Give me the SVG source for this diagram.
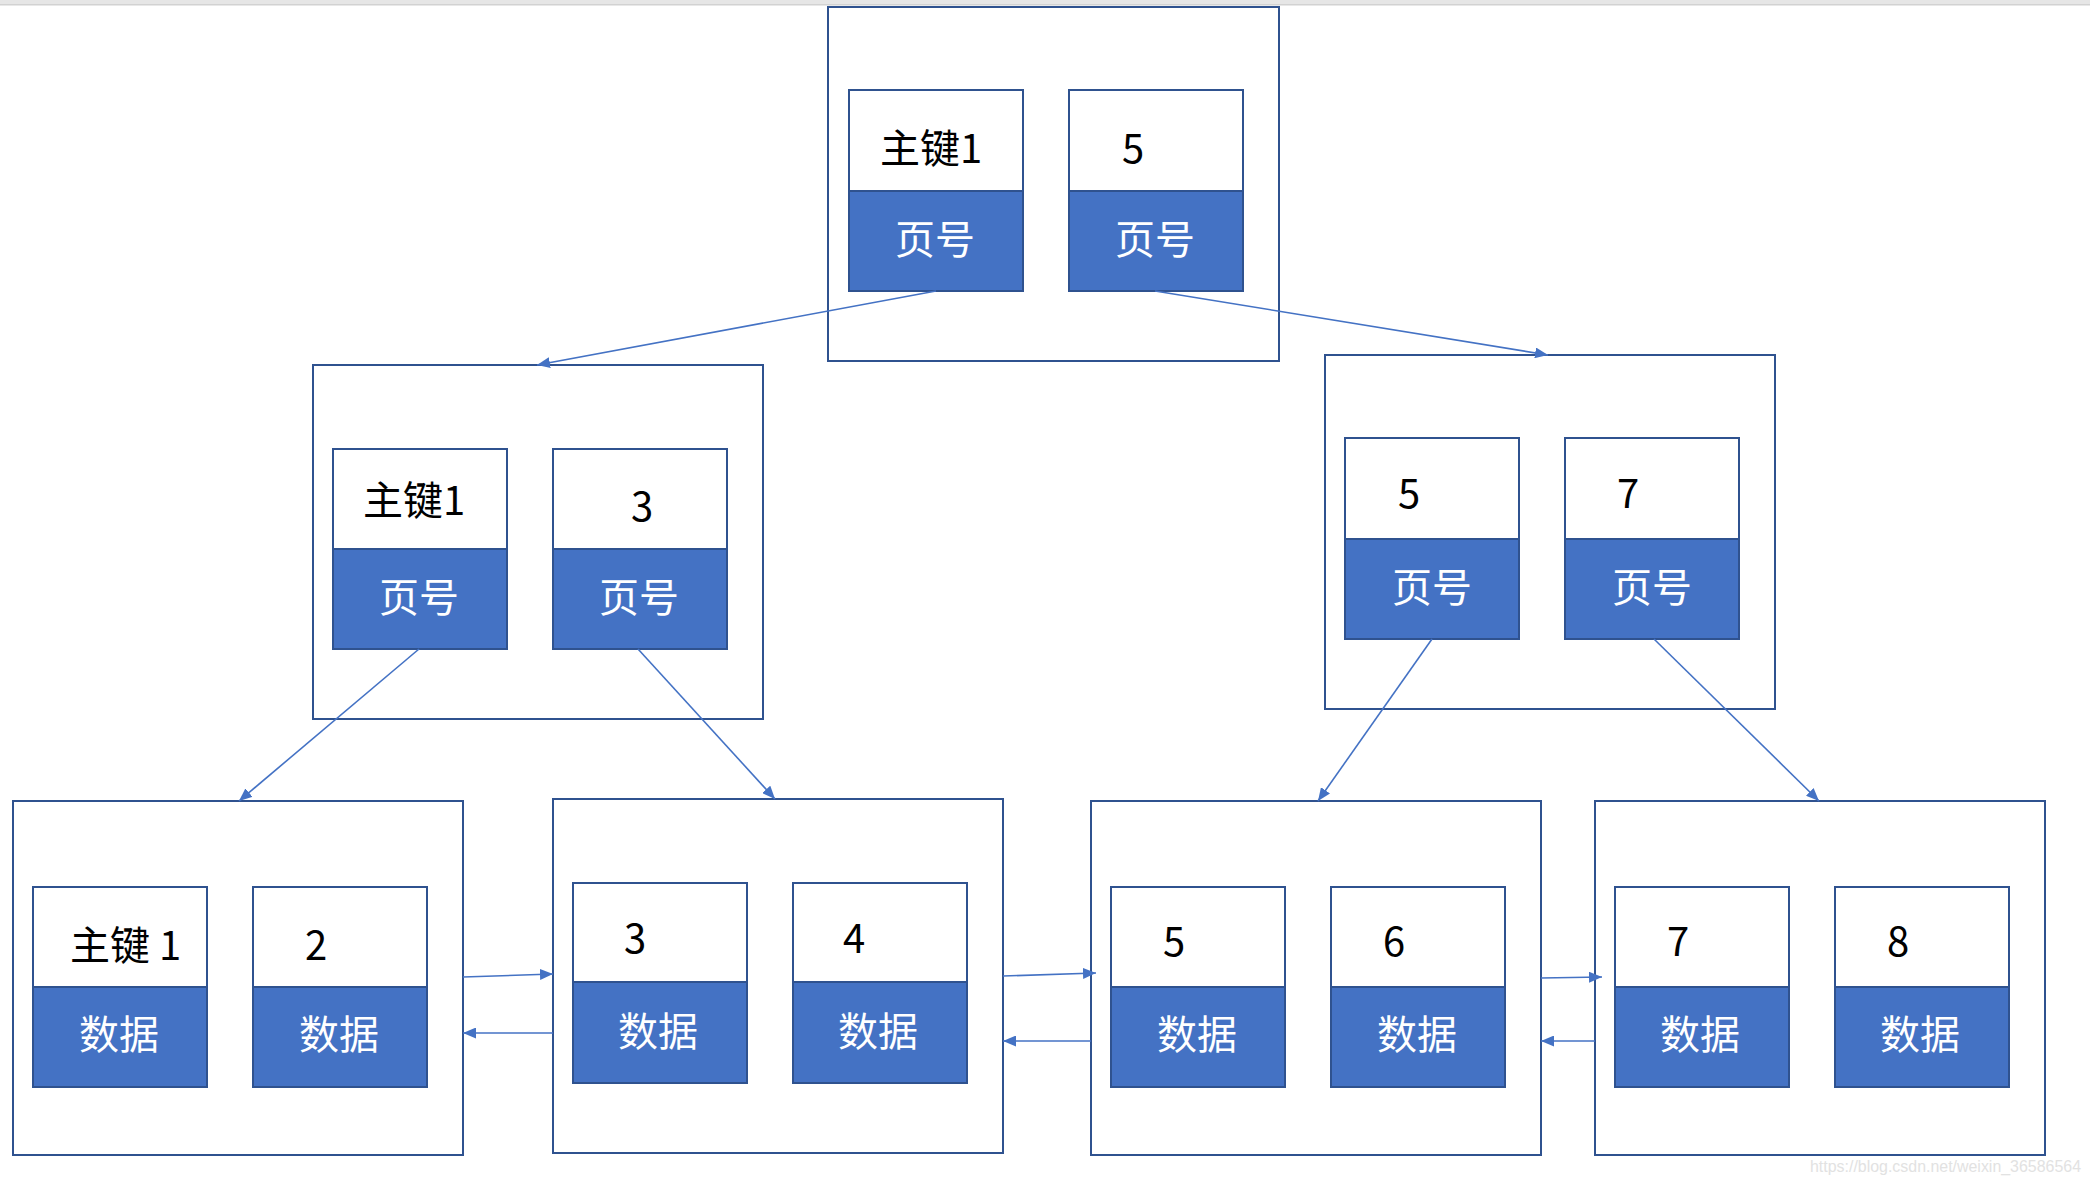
<svg xmlns="http://www.w3.org/2000/svg" width="2090" height="1184" viewBox="0 0 2090 1184">
<style>
.outer{fill:#fff;stroke:#2F528F;stroke-width:2}
.top{fill:#fff;stroke:#2F528F;stroke-width:2}
.bot{fill:#4472C4;stroke:#2F528F;stroke-width:2}
.k{font-family:"Noto Sans CJK SC","Noto Sans",sans-serif;font-size:40px;fill:#000}
.w{font-family:"Noto Sans CJK SC","Noto Sans",sans-serif;font-size:40px;fill:#fff;text-anchor:middle}
.c{stroke:#4472C4;stroke-width:1.6;fill:none;marker-end:url(#ah)}
</style>
<defs>
<marker id="ah" markerUnits="userSpaceOnUse" markerWidth="13" markerHeight="11" viewBox="0 0 13 11" refX="13" refY="5.5" orient="auto">
<path d="M0,0 L13,5.5 L0,11 z" fill="#4472C4"/>
</marker>
</defs>
<rect x="0" y="0" width="2090" height="1184" fill="#fff"/>
<rect x="0" y="0" width="2090" height="5" fill="#e6e6e6"/>
<rect x="0" y="4" width="2090" height="1.5" fill="#d2d2d2"/>

<g id="root">
<rect class="outer" x="828" y="7" width="451" height="354"/>
<rect class="top" x="849" y="90" width="174" height="101"/>
<rect class="bot" x="849" y="191" width="174" height="100"/>
<rect class="top" x="1069" y="90" width="174" height="101"/>
<rect class="bot" x="1069" y="191" width="174" height="100"/>
<text class="k" x="880" y="163">主键1</text>
<text class="k" x="1122" y="163">5</text>
<text class="w" x="935" y="254">页号</text>
<text class="w" x="1155" y="254">页号</text>
</g>

<g id="mid-left">
<rect class="outer" x="313" y="365" width="450" height="354"/>
<rect class="top" x="333" y="449" width="174" height="100"/>
<rect class="bot" x="333" y="549" width="174" height="100"/>
<rect class="top" x="553" y="449" width="174" height="100"/>
<rect class="bot" x="553" y="549" width="174" height="100"/>
<text class="k" x="363" y="515">主键1</text>
<text class="k" x="631" y="521">3</text>
<text class="w" x="419" y="612">页号</text>
<text class="w" x="639" y="612">页号</text>
</g>

<g id="mid-right">
<rect class="outer" x="1325" y="355" width="450" height="354"/>
<rect class="top" x="1345" y="438" width="174" height="101"/>
<rect class="bot" x="1345" y="539" width="174" height="100"/>
<rect class="top" x="1565" y="438" width="174" height="101"/>
<rect class="bot" x="1565" y="539" width="174" height="100"/>
<text class="k" x="1398" y="508">5</text>
<text class="k" x="1617" y="508">7</text>
<text class="w" x="1432" y="602">页号</text>
<text class="w" x="1652" y="602">页号</text>
</g>

<g id="leaf1">
<rect class="outer" x="13" y="801" width="450" height="354"/>
<rect class="top" x="33" y="887" width="174" height="100"/>
<rect class="bot" x="33" y="987" width="174" height="100"/>
<rect class="top" x="253" y="887" width="174" height="100"/>
<rect class="bot" x="253" y="987" width="174" height="100"/>
<text class="k" x="70" y="960">主键 1</text>
<text class="k" x="305" y="960">2</text>
<text class="w" x="119" y="1049">数据</text>
<text class="w" x="339" y="1049">数据</text>
</g>

<g id="leaf2">
<rect class="outer" x="553" y="799" width="450" height="354"/>
<rect class="top" x="573" y="883" width="174" height="99"/>
<rect class="bot" x="573" y="982" width="174" height="101"/>
<rect class="top" x="793" y="883" width="174" height="99"/>
<rect class="bot" x="793" y="982" width="174" height="101"/>
<text class="k" x="624" y="953">3</text>
<text class="k" x="843" y="953">4</text>
<text class="w" x="658" y="1046">数据</text>
<text class="w" x="878" y="1046">数据</text>
</g>

<g id="leaf3">
<rect class="outer" x="1091" y="801" width="450" height="354"/>
<rect class="top" x="1111" y="887" width="174" height="100"/>
<rect class="bot" x="1111" y="987" width="174" height="100"/>
<rect class="top" x="1331" y="887" width="174" height="100"/>
<rect class="bot" x="1331" y="987" width="174" height="100"/>
<text class="k" x="1163" y="956">5</text>
<text class="k" x="1383" y="956">6</text>
<text class="w" x="1197" y="1049">数据</text>
<text class="w" x="1417" y="1049">数据</text>
</g>

<g id="leaf4">
<rect class="outer" x="1595" y="801" width="450" height="354"/>
<rect class="top" x="1615" y="887" width="174" height="100"/>
<rect class="bot" x="1615" y="987" width="174" height="100"/>
<rect class="top" x="1835" y="887" width="174" height="100"/>
<rect class="bot" x="1835" y="987" width="174" height="100"/>
<text class="k" x="1667" y="956">7</text>
<text class="k" x="1887" y="956">8</text>
<text class="w" x="1700" y="1049">数据</text>
<text class="w" x="1920" y="1049">数据</text>
</g>

<g id="connectors">
<line class="c" x1="936" y1="291" x2="537" y2="365"/>
<line class="c" x1="1155" y1="291" x2="1548" y2="355"/>
<line class="c" x1="419" y1="649" x2="239" y2="801"/>
<line class="c" x1="638" y1="649" x2="775" y2="799"/>
<line class="c" x1="1432" y1="639" x2="1318" y2="801"/>
<line class="c" x1="1654" y1="639" x2="1819" y2="801"/>
<line class="c" x1="463" y1="977" x2="553" y2="974"/>
<line class="c" x1="553" y1="1033" x2="463" y2="1033"/>
<line class="c" x1="1003" y1="976" x2="1096" y2="973"/>
<line class="c" x1="1091" y1="1041" x2="1003" y2="1041"/>
<line class="c" x1="1541" y1="978" x2="1602" y2="977"/>
<line class="c" x1="1595" y1="1041" x2="1541" y2="1041"/>
</g>

<text x="1810" y="1172" font-family="Liberation Sans, Arial, sans-serif" font-size="16" fill="#e2e2e2" textLength="271" lengthAdjust="spacingAndGlyphs">https://blog.csdn.net/weixin_36586564</text>
</svg>
